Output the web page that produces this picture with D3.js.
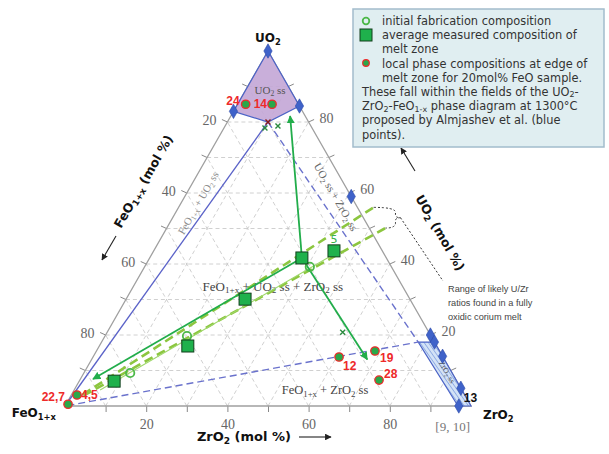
<!DOCTYPE html>
<html>
<head>
<meta charset="utf-8">
<script src="https://cdn.jsdelivr.net/npm/d3@7"></script>
<style>
  body { margin: 0; background: #fff; }
  svg { display: block; }
</style>
</head>
<body>
<svg id="chart" width="609" height="454"></svg>
<script>
// every composition is [FeO, ZrO2, UO2] in mol %
const gridSteps = [10, 20, 30, 40, 50, 60, 70, 80, 90];
const labelSteps = [20, 40, 60, 80];
const cornerTick = "[9, 10]";

// Almjashev et al. phase fields (blue)
const uo2ssField = [[0, 0, 100], [17, 0, 83], [10, 10, 80], [0, 15.5, 84.5]];
const zro2ssField = [[4, 78, 18], [0, 82, 18], [0, 100, 0], [3.2, 96.8, 0]];
const tieUO2 = [10, 10, 80];
const tieZrO2 = [4, 78, 18];
const tieFeO = [100, 0, 0];
const bluePoints = [[0, 0, 100], [17, 0, 83], [0, 15.5, 84.5], [0, 41, 59], [0, 80, 20],
  [0, 82, 18], [0, 86, 14], [0, 95, 5], [3, 97, 0]];

// samples
const initialComp = [[79.2, 11.4, 9.3], [60.1, 20.2, 19.7], [20.1, 40.7, 39.2]];
const measuredComp = [[84.4, 8.6, 7], [61.3, 21.8, 16.9], [40.6, 29.3, 30.1],
  [20.8, 37.5, 41.7], [11.9, 44.4, 43.7]];
const localPhases = [[13, 2, 85], [6.5, 8.5, 85], [99, 0.5, 0.5], [95.5, 1.4, 3.1],
  [25.6, 60.6, 13.8], [15.9, 68.6, 15.5], [19, 73.7, 7.3]];
const localLabels = ["24", "14", "22,7", "4,5", "12", "19", "28"];
const crossMarks = [[10, 10, 80], [11.6, 10.1, 78.3], [8.1, 13, 78.9], [21.2, 58, 20.8]];
const arrowStart = [20.8, 37.5, 41.7];
const arrowEnds = [[3.7, 14.6, 81.7], [19, 67.9, 13.1], [89.3, 3.1, 7.6]];
const trendLine = [[11.1, 45.5, 43.4], [89.5, 6.4, 4.5]];
const uzrBand = [0.538, 0.482]; // U/(U+Zr) of the likely corium range

const svg = d3.select("#chart");
const A = { x: 65, y: 406 }, B = { x: 471, y: 406 }, C = { x: 268, y: 51 };
const zx = d3.scaleLinear().domain([0, 100]).range([0, B.x - A.x]);
const ux = d3.scaleLinear().domain([0, 100]).range([0, C.x - A.x]);
const uy = d3.scaleLinear().domain([0, 100]).range([A.y, C.y]);
const pt = c => [A.x + zx(c[1]) + ux(c[2]), uy(c[2])];
const line = d3.line();

const green = "#22ad4b", ltGreen = "#8cc63f", blue = "#4b63c6", red = "#ee2a2a";
const serif = "Liberation Serif, serif", sans = "DejaVu Sans, sans-serif";

// text with _{..} subscripts, shifted with dy so the line box stays put
function rich(sel, str, size, shift = 0.22) {
  const sh = size * shift;
  let down = false;
  str.split(/(_\{[^}]*\})/).forEach(p => {
    if (!p) return;
    if (p.startsWith("_{")) {
      sel.append("tspan").attr("dy", sh).attr("font-size", size * 0.7).text(p.slice(2, -1));
      down = true;
    } else {
      sel.append("tspan").attr("dy", down ? -sh : 0).text(p);
      down = false;
    }
  });
  return sel;
}

const defs = svg.append("defs");
const hatch = defs.append("pattern").attr("id", "hatch").attr("patternUnits", "userSpaceOnUse")
  .attr("width", 3.5).attr("height", 3.5).attr("patternTransform", "rotate(-35)");
hatch.append("rect").attr("width", 3.5).attr("height", 3.5).attr("fill", "#d3e2f6");
hatch.append("line").attr("x1", 0).attr("y1", 0).attr("x2", 0).attr("y2", 3.5).attr("stroke", "#5a7fd6").attr("stroke-width", 1);
function marker(id, col, w) {
  defs.append("marker").attr("id", id).attr("viewBox", "0 0 10 10").attr("refX", 9).attr("refY", 5)
    .attr("markerWidth", w).attr("markerHeight", w).attr("orient", "auto")
    .append("path").attr("d", "M0,0L10,5L0,10z").attr("fill", col);
}
marker("arrG", green, 4.5);
marker("arrK", "#222", 6);

svg.append("rect").attr("width", 609).attr("height", 454).attr("fill", "#fff");

// grid
const grid = svg.append("g").attr("stroke", "#c4c4c4").attr("stroke-width", 0.8).attr("stroke-dasharray", "4,3").attr("fill", "none");
gridSteps.forEach(v => {
  grid.append("path").attr("d", line([pt([100 - v, 0, v]), pt([0, 100 - v, v])]));
  grid.append("path").attr("d", line([pt([100 - v, v, 0]), pt([0, v, 100 - v])]));
  grid.append("path").attr("d", line([pt([v, 100 - v, 0]), pt([v, 0, 100 - v])]));
});

// bottom axis (ZrO2)
const zScale = d3.scaleLinear().domain([0, 100]).range([A.x, B.x]);
const bottom = svg.append("g").attr("transform", `translate(0,${A.y})`)
  .call(d3.axisBottom(zScale).tickValues(gridSteps).tickSize(6).tickFormat(d => labelSteps.includes(d) ? d : ""));
bottom.select(".domain").remove();
bottom.selectAll("line").attr("stroke", "#888");
bottom.selectAll("text").attr("font-family", serif).attr("font-size", 14).attr("fill", "#666").attr("y", 13);
svg.append("text").attr("x", zScale(95) + 2).attr("y", A.y + 25).attr("text-anchor", "middle")
  .attr("font-family", serif).attr("font-size", 13).attr("fill", "#777").text(cornerTick);

// side ticks
const side = svg.append("g");
gridSteps.forEach(v => {
  const l = pt([v, 0, 100 - v]), r = pt([0, 100 - v, v]);
  side.append("line").attr("x1", l[0]).attr("y1", l[1]).attr("x2", l[0] - 5.5).attr("y2", l[1] - 2.5).attr("stroke", "#888");
  side.append("line").attr("x1", r[0]).attr("y1", r[1]).attr("x2", r[0] + 5.5).attr("y2", r[1] - 2.5).attr("stroke", "#888");
  if (labelSteps.includes(v)) {
    side.append("text").attr("x", l[0] - 18).attr("y", l[1] - 2).attr("dy", "0.35em").attr("text-anchor", "middle")
      .attr("font-family", serif).attr("font-size", 14).attr("fill", "#666").text(v);
    side.append("text").attr("x", r[0] + 18).attr("y", r[1] - 4).attr("dy", "0.35em").attr("text-anchor", "middle")
      .attr("font-family", serif).attr("font-size", 14).attr("fill", "#666").text(v);
  }
});

// triangle
svg.append("path").attr("d", line([pt([100, 0, 0]), pt([0, 100, 0]), pt([0, 0, 100])]) + "Z")
  .attr("fill", "none").attr("stroke", "#a0a0a0").attr("stroke-width", 1.3);

// phase fields
svg.append("path").attr("d", line(uo2ssField.map(pt)) + "Z").attr("fill", "#c3a6d6").attr("fill-opacity", 0.9)
  .attr("stroke", blue).attr("stroke-width", 1.2);
svg.append("path").attr("d", line(zro2ssField.map(pt)) + "Z").attr("fill", "url(#hatch)")
  .attr("stroke", blue).attr("stroke-width", 1.2);
svg.append("path").attr("d", line([pt(tieUO2), pt(tieFeO)])).attr("stroke", "#5a62c8").attr("stroke-width", 1.3).attr("fill", "none");
svg.append("path").attr("d", line([pt(tieUO2), pt(tieZrO2), pt(tieFeO)])).attr("stroke", "#6a72cc")
  .attr("stroke-width", 1.4).attr("stroke-dasharray", "7,4").attr("fill", "none");

// phase labels
function phaseLabel(c, str, size, col, rot) {
  const p = pt(c);
  rich(svg.append("text").attr("transform", `translate(${p[0]},${p[1]}) rotate(${rot})`).attr("y", size * 0.35)
    .attr("text-anchor", "middle").attr("font-family", serif).attr("font-size", size).attr("fill", col), str, size);
}
phaseLabel([5, 6, 89], "UO_{2} ss", 11, "#555", 0);
phaseLabel([31.9, 34.3, 33.8], "FeO_{1+x} + UO_{2} ss + ZrO_{2} ss", 13, "#444", 0);
phaseLabel([33.7, 61.8, 4.5], "FeO_{1+x} + ZrO_{2} ss", 12.5, "#444", 0);
phaseLabel([38.6, 4.2, 57.2], "FeO_{1+x} + UO_{2} ss", 10.5, "#888", -60);
phaseLabel([3.8, 37.3, 58.9], "UO_{2} ss + ZrO_{2} ss", 11, "#666", 60);
phaseLabel([1.1, 89.3, 9.6], "ZrO_{2} ss", 8, "#555", 60);

// U/Zr band
const bandEnds = uzrBand.map(r => [pt([94, 6 * (1 - r), 6 * r]), pt([-4, 104 * (1 - r), 104 * r])]);
bandEnds.forEach(e => svg.append("path").attr("d", line(e)).attr("stroke", ltGreen).attr("stroke-width", 2.6)
  .attr("stroke-dasharray", "9,5").attr("fill", "none"));
svg.append("path").attr("d", line(trendLine.map(pt))).attr("stroke", "#9fd76a").attr("stroke-width", 1.1).attr("fill", "none");

// brace and note
const p1 = bandEnds[0][1], p2 = bandEnds[1][1];
const bx = Math.max(p1[0], p2[0]) + 10, ym = (p1[1] + p2[1]) / 2;
svg.append("path").attr("d", `M${p1[0]},${p1[1]} Q${bx},${p1[1]} ${bx},${p1[1] + 5} L${bx},${ym - 3} Q${bx},${ym} ${bx + 5},${ym}` +
  ` Q${bx},${ym} ${bx},${ym + 3} L${bx},${p2[1] - 5} Q${bx},${p2[1]} ${p2[0]},${p2[1]}`)
  .attr("fill", "none").attr("stroke", "#333").attr("stroke-width", 1).attr("stroke-dasharray", "2,2");
svg.append("path").attr("d", line([[bx + 5, ym], [443, 281]])).attr("stroke", "#333").attr("stroke-width", 1).attr("stroke-dasharray", "2,2");
const note = svg.append("text").attr("font-family", "Liberation Sans, sans-serif").attr("font-size", 9.2).attr("fill", "#444");
["Range of likely U/Zr", "ratios found in a fully", "oxidic corium melt"].forEach((t, i) =>
  note.append("tspan").attr("x", 448).attr("y", 292 + i * 14).text(t));

// green paths
arrowEnds.forEach(e => svg.append("path").attr("d", line([pt(arrowStart), pt(e)])).attr("stroke", green)
  .attr("stroke-width", 1.8).attr("fill", "none").attr("marker-end", "url(#arrG)"));

// blue points
svg.append("g").selectAll("path").data(bluePoints).join("path")
  .attr("transform", d => `translate(${pt(d)})`).attr("d", d3.symbol(d3.symbolDiamond, 60))
  .attr("fill", "#3f62c9").attr("stroke", "#2c4aa8").attr("stroke-width", 0.6);

// cross marks
svg.append("g").selectAll("path").data(crossMarks).join("path")
  .attr("transform", d => `translate(${pt(d)})`).attr("d", d3.symbol(d3.symbolTimes, 18))
  .attr("stroke", (d, i) => i === 0 ? "#8b1a1a" : "#2a8a3e").attr("stroke-width", 1.4).attr("fill", "none");

// initial fabrication
svg.append("g").selectAll("circle").data(initialComp).join("circle")
  .attr("cx", d => pt(d)[0]).attr("cy", d => pt(d)[1]).attr("r", 4.2)
  .attr("fill", "none").attr("stroke", "#4cb848").attr("stroke-width", 1.8);

// measured squares
svg.append("g").selectAll("rect").data(measuredComp).join("rect")
  .attr("x", d => pt(d)[0] - 6).attr("y", d => pt(d)[1] - 6).attr("width", 12).attr("height", 12)
  .attr("fill", "#1fb14c").attr("stroke", "#123f1d").attr("stroke-width", 1);
const s5 = pt(measuredComp[4]);
svg.append("text").attr("x", s5[0]).attr("y", s5[1] - 8).attr("text-anchor", "middle")
  .attr("font-family", sans).attr("font-size", 11).attr("fill", "#3cb44b").text("5");

// local phase compositions
svg.append("g").selectAll("circle").data(localPhases).join("circle")
  .attr("cx", d => pt(d)[0]).attr("cy", d => pt(d)[1]).attr("r", 4.2)
  .attr("fill", "#2aa84a").attr("stroke", red).attr("stroke-width", 1.3);
const labelPlace = [[-6, 1, "end"], [-5, 4, "end"], [-3, -3, "end"], [4, 4, "start"], [4, 13, "start"], [5, 11, "start"], [5, -2, "start"]];
svg.append("g").selectAll("text").data(localPhases).join("text")
  .attr("x", (d, i) => pt(d)[0] + labelPlace[i][0]).attr("y", (d, i) => pt(d)[1] + labelPlace[i][1])
  .attr("text-anchor", (d, i) => labelPlace[i][2])
  .attr("font-family", "Liberation Sans, sans-serif").attr("font-weight", "bold").attr("font-size", 12)
  .attr("fill", red).text((d, i) => localLabels[i]);
const p13 = pt(bluePoints[7]);
svg.append("text").attr("x", p13[0] + 3).attr("y", p13[1] + 14).attr("font-family", "Liberation Sans, sans-serif")
  .attr("font-weight", "bold").attr("font-size", 12).attr("fill", "#111").text("13");

// axis titles
function title(x, y, str, rot, anchor, size) {
  rich(svg.append("text").attr("transform", `translate(${x},${y}) rotate(${rot})`).attr("text-anchor", anchor)
    .attr("font-family", sans).attr("font-weight", "bold").attr("font-size", size).attr("fill", "#111"), str, size);
}
title(C.x, C.y - 9, "UO_{2}", 0, "middle", 12);
title(A.x - 9, A.y + 11, "FeO_{1+x}", 0, "end", 12);
title(B.x + 12, B.y + 13, "ZrO_{2}", 0, "start", 12);
title(291, 441, "ZrO_{2} (mol %)", 0, "end", 13);
title(121, 229, "FeO_{1+x} (mol %)", -60, "start", 12.5);
title(415, 198, "UO_{2} (mol %)", 60, "start", 12.5);
const arrow = (a, b) => svg.append("path").attr("d", line([a, b])).attr("stroke", "#222").attr("stroke-width", 1.1).attr("marker-end", "url(#arrK)");
arrow([299, 437], [331, 437]);
arrow([116, 236], [102, 260]);
arrow([415, 171], [401, 148]);

// legend
const lg = svg.append("g");
lg.append("rect").attr("x", 353).attr("y", 9).attr("width", 251).attr("height", 138)
  .attr("fill", "#e0eef1").attr("stroke", "#a2bccc").attr("stroke-width", 1.5);
lg.append("circle").attr("cx", 366).attr("cy", 21).attr("r", 3.3).attr("fill", "none").attr("stroke", "#4cb848").attr("stroke-width", 1.8);
lg.append("rect").attr("x", 360).attr("y", 29).attr("width", 12).attr("height", 12).attr("fill", "#1fb14c").attr("stroke", "#123f1d");
lg.append("circle").attr("cx", 366).attr("cy", 63).attr("r", 3.3).attr("fill", "#2aa84a").attr("stroke", red).attr("stroke-width", 1.2);
const legendLines = [
  [382, "initial fabrication composition"],
  [382, "average measured composition of"],
  [382, "melt zone"],
  [382, "local phase compositions at edge of"],
  [382, "melt zone for 20mol% FeO sample."],
  [362, "These fall within the fields of the UO_{2}-"],
  [362, "ZrO_{2}-FeO_{1-x} phase diagram at 1300°C"],
  [362, "proposed by Almjashev et al. (blue"],
  [362, "points)."]
];
legendLines.forEach((l, i) => rich(lg.append("text").attr("x", l[0]).attr("y", 25 + i * 14.2)
  .attr("font-family", sans).attr("font-size", 11.4).attr("fill", "#333"), l[1], 11.4, 0.12));
</script>
</body>
</html>
